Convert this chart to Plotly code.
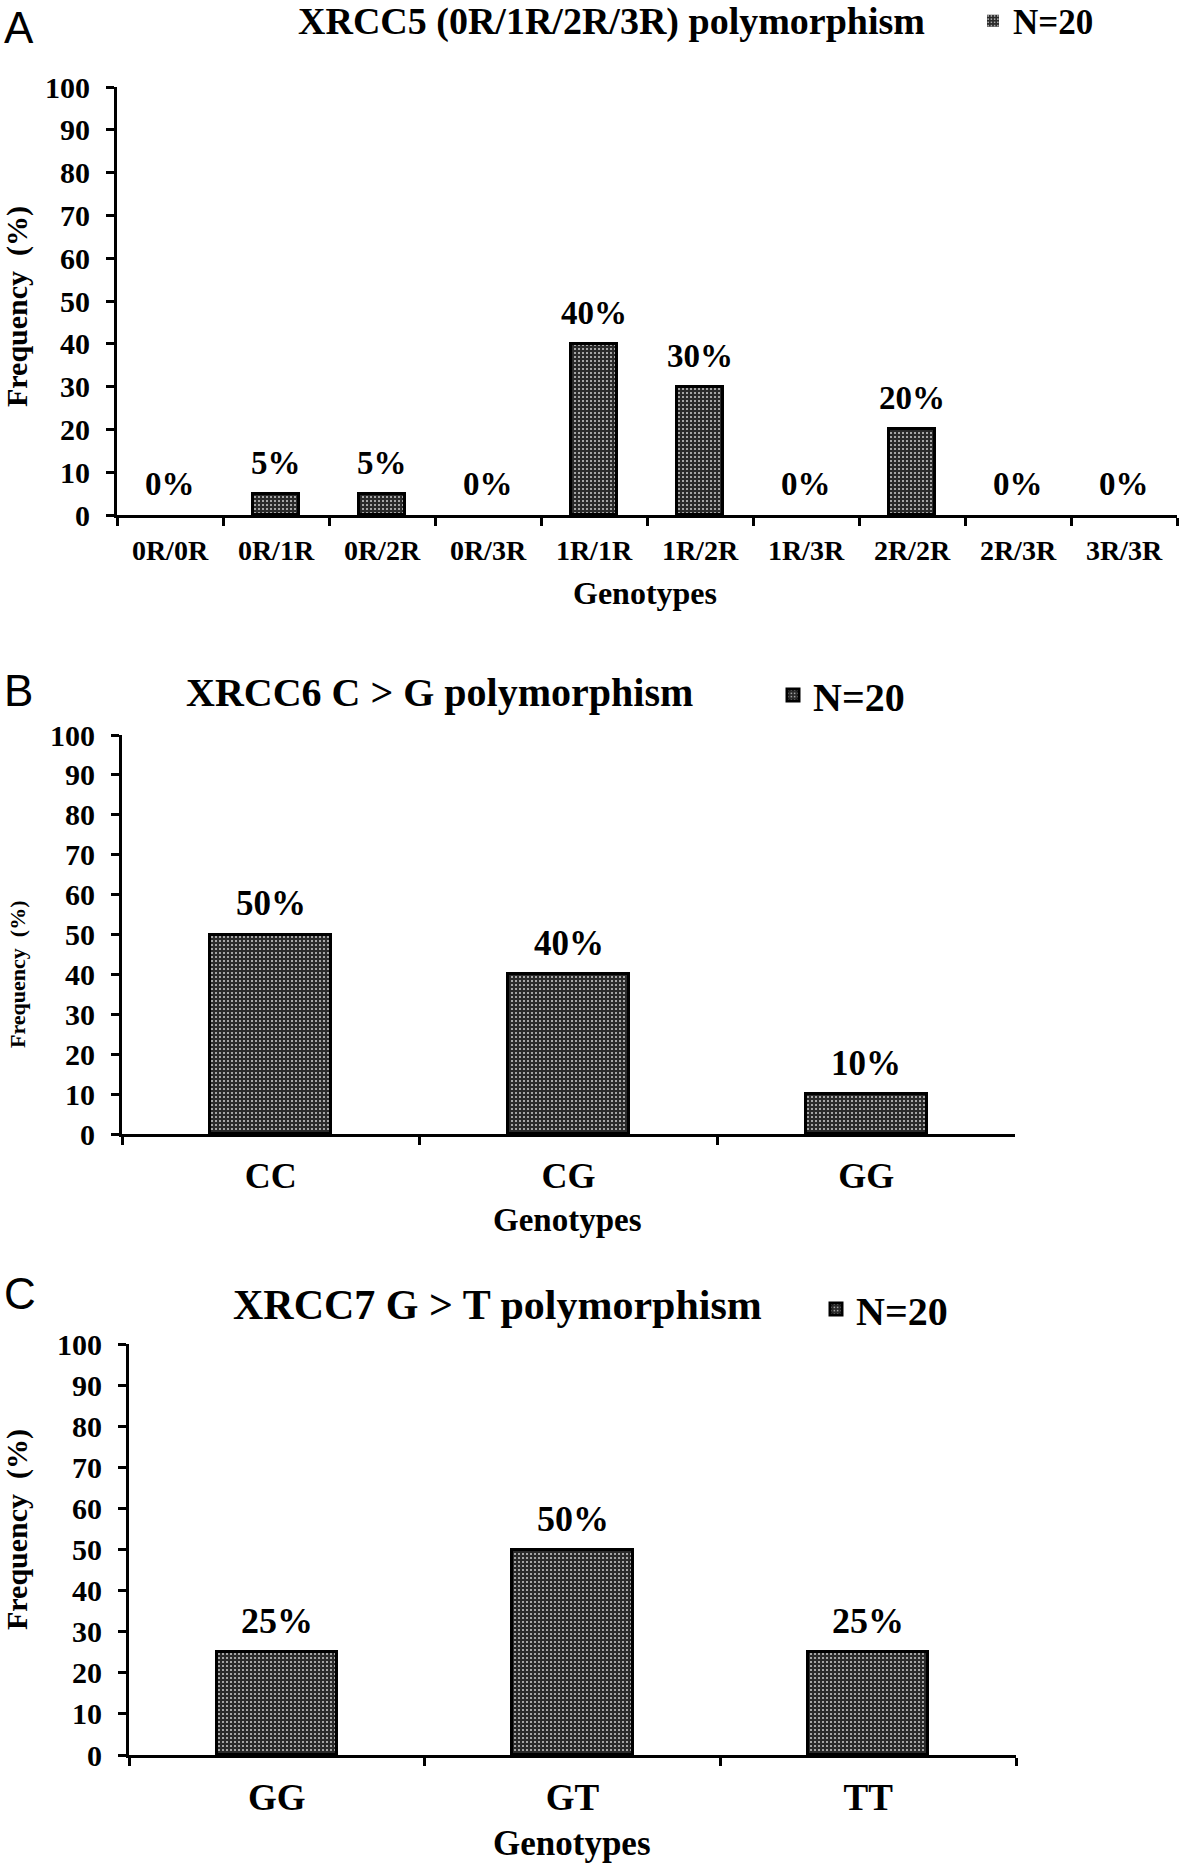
import plotly.graph_objects as go

W, H = 1181, 1869

# ---------------- data ----------------
cats_a = ["0R/0R", "0R/1R", "0R/2R", "0R/3R", "1R/1R", "1R/2R", "1R/3R", "2R/2R", "2R/3R", "3R/3R"]
vals_a = [0, 5, 5, 0, 40, 30, 0, 20, 0, 0]

cats_b = ["CC", "CG", "GG"]
vals_b = [50, 40, 10]

cats_c = ["GG", "GT", "TT"]
vals_c = [25, 50, 25]

titles = ["XRCC5 (0R/1R/2R/3R) polymorphism", "XRCC6 C > G polymorphism", "XRCC7 G > T polymorphism"]
panel_letters = ["A", "B", "C"]
legend_name = "N=20"
y_title = "Frequency  (%)"
x_title = "Genotypes"
y_ticks = [0, 10, 20, 30, 40, 50, 60, 70, 80, 90, 100]

SERIF = "Liberation Serif"
SANS = "Liberation Sans"


def px(x):
    return x / W


def py(y):
    return 1 - y / H


pattern = dict(shape=".", bgcolor="#2a2a2a", fgcolor="#cfcfcf", size=4, solidity=0.2, fillmode="replace")

# panel geometry (pixels)
panels = [
    dict(cats=cats_a, vals=vals_a, x0=117, x1=1177, y0=515, y100=87, width=0.425, tick_font=28,
         title_xy=(611, 21), title_size=38, legend_xy=(1013, 21), legend_size=35, letter_y=27,
         xt_xy=(645, 593), xt_size=32, yt_xy=(17, 307), yt_size=30, lab_size=33),
    dict(cats=cats_b, vals=vals_b, x0=122, x1=1015, y0=1134, y100=735, width=0.406, tick_font=36,
         title_xy=(439, 692), title_size=40, legend_xy=(813, 695), legend_size=40, letter_y=691,
         xt_xy=(567, 1220), xt_size=33, yt_xy=(17, 975), yt_size=22, lab_size=35),
    dict(cats=cats_c, vals=vals_c, x0=129, x1=1016, y0=1755, y100=1344, width=0.407, tick_font=37,
         title_xy=(497, 1305), title_size=42, legend_xy=(856, 1309), legend_size=40, letter_y=1293,
         xt_xy=(572, 1843), xt_size=35, yt_xy=(17, 1530), yt_size=30, lab_size=36),
]

fig = go.Figure()
annotations = []
layout = dict(
    width=W, height=H, autosize=False,
    margin=dict(l=0, r=0, t=0, b=0, pad=0, autoexpand=False),
    paper_bgcolor="white", plot_bgcolor="white",
    bargap=0.0,
)

for i, p in enumerate(panels):
    n = "" if i == 0 else str(i + 1)
    xa, ya = "x" + n, "y" + n
    lg = "legend" + n
    fig.add_trace(go.Bar(
        x=p["cats"], y=p["vals"], xaxis=xa, yaxis=ya,
        width=p["width"], name=legend_name, legend=lg, showlegend=True,
        marker=dict(color="#2a2a2a", pattern=pattern,
                    line=dict(color="black", width=[3 if v > 0 else 0 for v in p["vals"]])),
    ))
    layout["xaxis" + n] = dict(
        domain=[px(p["x0"]), px(p["x1"])], anchor=ya, type="category",
        showline=True, linecolor="black", linewidth=3, showgrid=False, zeroline=False,
        ticks="outside", tickson="boundaries", ticklen=8, tickwidth=3, tickcolor="black",
        tickfont=dict(family=SERIF, size=p["tick_font"], color="black", weight="bold"),
        ticklabelstandoff=8, fixedrange=True,
    )
    layout["yaxis" + n] = dict(
        domain=[py(p["y0"]), py(p["y100"])], anchor=xa, range=[0, 100],
        tickvals=y_ticks, showline=True, linecolor="black", linewidth=3,
        showgrid=False, zeroline=False,
        ticks="outside", ticklen=8, tickwidth=3, tickcolor="black",
        tickfont=dict(family=SERIF, size=30, color="black", weight="bold"),
        ticklabelstandoff=10, fixedrange=True,
    )
    layout[lg] = dict(
        x=px(p["legend_xy"][0] - 40), y=py(p["legend_xy"][1]), xanchor="left", yanchor="middle",
        font=dict(family=SERIF, size=p["legend_size"], color="black", weight="bold"),
        bgcolor="rgba(0,0,0,0)", borderwidth=0, itemclick=False, itemdoubleclick=False,
    )
    # value labels
    for c, v in zip(p["cats"], p["vals"]):
        annotations.append(dict(
            x=c, y=v, xref=xa, yref=ya, text=f"<b>{v}%</b>", showarrow=False,
            yanchor="middle", yshift=31,
            font=dict(family=SERIF, size=p["lab_size"], color="black"),
        ))
    # titles
    annotations.append(dict(
        x=px(p["title_xy"][0]), y=py(p["title_xy"][1]), xref="paper", yref="paper",
        text=f"<b>{titles[i]}</b>", showarrow=False, xanchor="center", yanchor="middle",
        font=dict(family=SERIF, size=p["title_size"], color="black"),
    ))
    annotations.append(dict(
        x=px(2), y=py(p["letter_y"]), xref="paper", yref="paper",
        text=panel_letters[i], showarrow=False, xanchor="left", yanchor="middle",
        font=dict(family=SANS, size=44, color="black"),
    ))
    annotations.append(dict(
        x=px(p["xt_xy"][0]), y=py(p["xt_xy"][1]), xref="paper", yref="paper",
        text=f"<b>{x_title}</b>", showarrow=False, xanchor="center", yanchor="middle",
        font=dict(family=SERIF, size=p["xt_size"], color="black"),
    ))
    annotations.append(dict(
        x=px(p["yt_xy"][0]), y=py(p["yt_xy"][1]), xref="paper", yref="paper",
        text=f"<b>{y_title}</b>", showarrow=False, xanchor="center", yanchor="middle",
        textangle=-90,
        font=dict(family=SERIF, size=p["yt_size"], color="black"),
    ))

layout["annotations"] = annotations
fig.update_layout(**layout)
fig.write_html("out.html", config={"displayModeBar": False},
               post_script="document.body.style.margin='0px';")
